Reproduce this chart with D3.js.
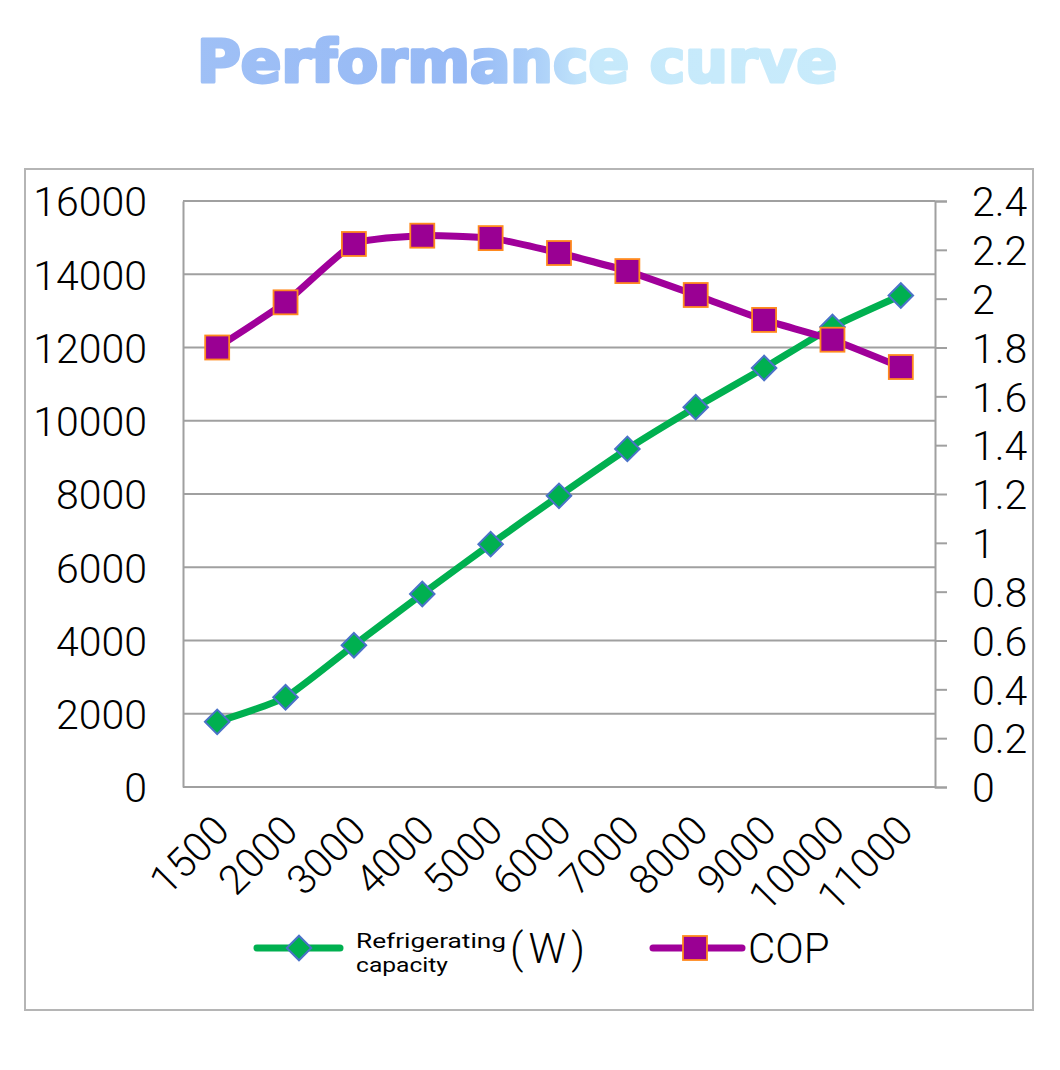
<!DOCTYPE html>
<html>
<head>
<meta charset="utf-8">
<script src="https://cdn.jsdelivr.net/npm/d3@7"></script>
<style>
  body { margin: 0; background: #fff; }
  svg text { font-family: Roboto, "Noto Sans", sans-serif; font-weight: 300; fill: #000; }
</style>
</head>
<body>
<div id="chart"></div>
<script>
// chart values
const categories = ["1500", "2000", "3000", "4000", "5000", "6000", "7000", "8000", "9000", "10000", "11000"];
const capacity = [1780, 2450, 3870, 5270, 6630, 7950, 9230, 10370, 11440, 12560, 13420];
const cop = [1.80, 1.985, 2.224, 2.258, 2.248, 2.187, 2.113, 2.015, 1.913, 1.832, 1.72];
const leftTicks = [0, 2000, 4000, 6000, 8000, 10000, 12000, 14000, 16000];
const rightTicks = [0, 0.2, 0.4, 0.6, 0.8, 1, 1.2, 1.4, 1.6, 1.8, 2, 2.2, 2.4];

const W = 1060, H = 1070;
const plot = {left: 183, right: 935, top: 201, bottom: 787};

const svg = d3.select("#chart").append("svg")
  .attr("width", W).attr("height", H);

// title gradient
const defs = svg.append("defs");
const grad = defs.append("linearGradient")
  .attr("id", "titleGrad")
  .attr("gradientUnits", "userSpaceOnUse")
  .attr("x1", 195).attr("x2", 840).attr("y1", 0).attr("y2", 0);
[[0, "#9fc0f6"], [0.42, "#96b9f5"], [0.52, "#a9cdf8"], [0.62, "#c6e9fb"], [1, "#c8ebfb"]]
  .forEach(([o, c]) => grad.append("stop").attr("offset", o).attr("stop-color", c));

svg.append("text")
  .attr("x", 197).attr("y", 82)
  .attr("textLength", 640)
  .attr("lengthAdjust", "spacingAndGlyphs")
  .style("font-family", "'DejaVu Sans Condensed', 'DejaVu Sans', sans-serif")
  .style("font-weight", "bold")
  .style("font-size", "58px")
  .style("fill", "url(#titleGrad)")
  .style("stroke", "url(#titleGrad)")
  .style("stroke-width", 3)
  .style("stroke-linejoin", "round")
  .text("Performance curve");

// outer frame
svg.append("rect")
  .attr("x", 25).attr("y", 169)
  .attr("width", 1008).attr("height", 841)
  .attr("fill", "none").attr("stroke", "#b5b5b5").attr("stroke-width", 2);

const x = d3.scalePoint()
  .domain(categories)
  .range([plot.left, plot.right])
  .padding(0.5);

const yL = d3.scaleLinear().domain([0, 16000]).range([plot.bottom, plot.top]);
const yR = d3.scaleLinear().domain([0, 2.4]).range([plot.bottom, plot.top]);

// gridlines
svg.append("g")
  .selectAll("line")
  .data(leftTicks)
  .join("line")
  .attr("x1", plot.left).attr("x2", plot.right)
  .attr("y1", d => yL(d)).attr("y2", d => yL(d))
  .attr("stroke", "#a0a0a0").attr("stroke-width", 2);

// left axis
const leftAxis = svg.append("g")
  .attr("transform", `translate(${plot.left},0)`)
  .call(d3.axisLeft(yL).tickValues(leftTicks).tickSize(0).tickPadding(36)
    .tickFormat(d3.format("d")));
leftAxis.select(".domain").attr("stroke", "#a0a0a0").attr("stroke-width", 2);
leftAxis.selectAll("text").style("font-size", "41px").attr("dy", "0.36em");

// right axis
const rightAxis = svg.append("g")
  .attr("transform", `translate(${plot.right},0)`)
  .call(d3.axisRight(yR).tickValues(rightTicks).tickSize(12).tickPadding(25)
    .tickFormat(d => String(+d.toFixed(1))));
rightAxis.select(".domain").attr("stroke", "#a0a0a0").attr("stroke-width", 2);
rightAxis.selectAll(".tick line").attr("stroke", "#a0a0a0").attr("stroke-width", 2);
rightAxis.selectAll("text").style("font-size", "41px").attr("dy", "0.36em");

// bottom axis
const bottomAxis = svg.append("g")
  .attr("transform", `translate(0,${plot.bottom})`)
  .call(d3.axisBottom(x).tickSize(0).tickPadding(0));
bottomAxis.select(".domain").attr("d", `M${plot.left},0H${plot.right}`)
  .attr("stroke", "#a0a0a0").attr("stroke-width", 2);
bottomAxis.selectAll("text")
  .style("font-size", "41px")
  .attr("text-anchor", "end")
  .attr("dy", 0)
  .attr("transform", "translate(14,46) rotate(-45)");

// lines
const capLine = d3.line()
  .x((d, i) => x(categories[i]))
  .y(d => yL(d))
  .curve(d3.curveCardinal.tension(0.5));
const copLine = d3.line()
  .x((d, i) => x(categories[i]))
  .y(d => yR(d))
  .curve(d3.curveCardinal.tension(0.5));

svg.append("path")
  .datum(capacity)
  .attr("d", capLine)
  .attr("fill", "none").attr("stroke", "#00b050").attr("stroke-width", 7)
  .attr("stroke-linejoin", "round");

svg.append("g")
  .selectAll("path")
  .data(capacity)
  .join("path")
  .attr("d", d3.symbol(d3.symbolSquare, 300)())
  .attr("transform", (d, i) => `translate(${x(categories[i])},${yL(d)}) rotate(45)`)
  .attr("fill", "#00b050").attr("stroke", "#4a72c8").attr("stroke-width", 2);

svg.append("path")
  .datum(cop)
  .attr("d", copLine)
  .attr("fill", "none").attr("stroke", "#a0009a").attr("stroke-width", 7)
  .attr("stroke-linejoin", "round");

svg.append("g")
  .selectAll("rect")
  .data(cop)
  .join("rect")
  .attr("x", (d, i) => x(categories[i]) - 12)
  .attr("y", d => yR(d) - 12)
  .attr("width", 24).attr("height", 24)
  .attr("fill", "#9a0093").attr("stroke", "#ff8a1e").attr("stroke-width", 1.8);

// legend
const legY = 948;
const leg = svg.append("g");
leg.append("line")
  .attr("x1", 257).attr("x2", 340).attr("y1", legY).attr("y2", legY)
  .attr("stroke", "#00b050").attr("stroke-width", 7).attr("stroke-linecap", "round");
leg.append("path")
  .attr("d", d3.symbol(d3.symbolSquare, 300)())
  .attr("transform", `translate(299,${legY}) rotate(45)`)
  .attr("fill", "#00b050").attr("stroke", "#4a72c8").attr("stroke-width", 2);
const legText = leg.append("text").style("font-size", "20px").style("font-weight", 400);
legText.append("tspan").attr("x", 356).attr("y", legY)
  .attr("textLength", 150).attr("lengthAdjust", "spacingAndGlyphs").text("Refrigerating");
legText.append("tspan").attr("x", 356).attr("y", legY + 23.5)
  .attr("textLength", 92).attr("lengthAdjust", "spacingAndGlyphs").text("capacity");
leg.append("text").attr("x", 510).attr("y", legY + 15)
  .attr("textLength", 75).attr("lengthAdjust", "spacing")
  .style("font-size", "42px").text("(W)");

leg.append("line")
  .attr("x1", 653).attr("x2", 742).attr("y1", legY).attr("y2", legY)
  .attr("stroke", "#a0009a").attr("stroke-width", 7).attr("stroke-linecap", "round");
leg.append("rect")
  .attr("x", 683).attr("y", legY - 12).attr("width", 24).attr("height", 24)
  .attr("fill", "#9a0093").attr("stroke", "#ff8a1e").attr("stroke-width", 1.8);
leg.append("text").attr("x", 748).attr("y", legY + 15)
  .style("font-size", "42px").text("COP");
</script>
</body>
</html>
